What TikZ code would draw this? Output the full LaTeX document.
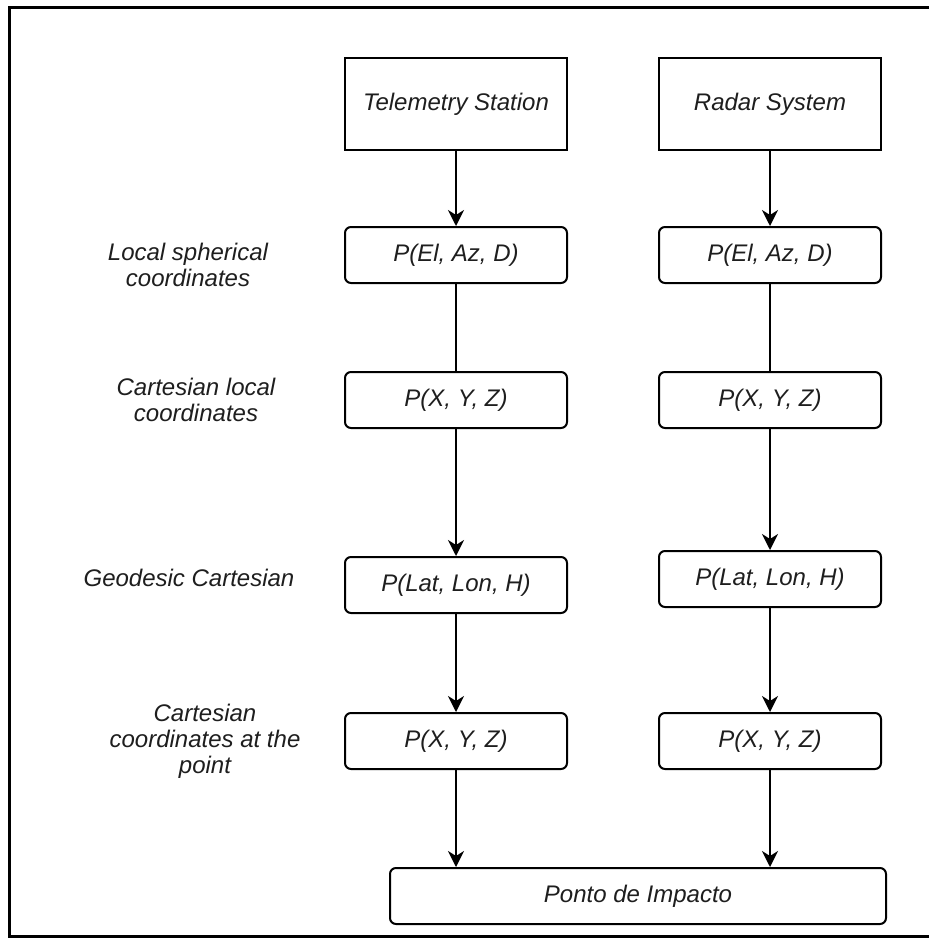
\documentclass[tikz,border=0pt]{standalone}
\usepackage{fontspec}
\setmainfont{Liberation Sans}
\usepackage{tikz}
\usetikzlibrary{arrows.meta,positioning}
\definecolor{InkGray}{RGB}{30,30,30}
\tikzset{
  srcbox/.style={draw=black,line width=1pt,minimum width=111pt,minimum height=46pt,align=center,text=InkGray,font=\itshape\fontsize{12}{13}\selectfont},
  stepbox/.style={draw=black,line width=1pt,rounded corners=3pt,minimum width=111pt,minimum height=28pt,align=center,text=InkGray,font=\itshape\fontsize{12}{13}\selectfont},
  lbl/.style={align=center,text=InkGray,font=\itshape\fontsize{12}{13}\selectfont},
  flow/.style={line width=1pt,-{Stealth[length=8pt,width=8pt,inset=2.5pt]}},
  link/.style={line width=1pt}
}

\begin{document}
\begin{tikzpicture}[x=0.5pt,y=-0.5pt]
\useasboundingbox (0,0) rectangle (929,938);
\draw[line width=1.5pt] (9,7) rectangle (945,936);

% sources
\node[srcbox] (tel) at (456,104) {Telemetry Station};
\node[srcbox,right=45pt of tel] (rad) {Radar System};

% telemetry column
\node[stepbox,below=37.5pt of tel] (t1) {P(El, Az, D)};
\node[stepbox,below=43.5pt of t1] (t2) {P(X, Y, Z)};
\node[stepbox,below=63.5pt of t2] (t3) {P(Lat, Lon, H)};
\node[stepbox,below=49pt of t3] (t4) {P(X, Y, Z)};

% radar column
\node[stepbox,below=37.5pt of rad] (r1) {P(El, Az, D)};
\node[stepbox,below=43.5pt of r1] (r2) {P(X, Y, Z)};
\node[stepbox,below=60.5pt of r2] (r3) {P(Lat, Lon, H)};
\node[stepbox,below=52pt of r3] (r4) {P(X, Y, Z)};

\node[stepbox,minimum width=248pt,below right=48.5pt and 22.5pt of t4.south west] (imp) {Ponto de Impacto};

% row labels
\node[lbl] (lab1) at ([xshift=-134pt,yshift=-5pt]t1.center) {Local spherical\\coordinates};
\node[lbl] (lab2) at ([xshift=-130pt]t2.center) {Cartesian local\\coordinates};
\node[lbl] (lab3) at ([xshift=-133.5pt,yshift=3.75pt]t3.center) {Geodesic Cartesian};
\node[lbl] (lab4) at ([xshift=-125.5pt]t4.center) {Cartesian\\coordinates at the\\point};

\draw[flow] (tel) -- (t1);
\draw[link] (t1) -- (t2);
\draw[flow] (t2) -- (t3);
\draw[flow] (t3) -- (t4);
\draw[flow] (t4.south) -- (t4.south |- imp.north);

\draw[flow] (rad) -- (r1);
\draw[link] (r1) -- (r2);
\draw[flow] (r2) -- (r3);
\draw[flow] (r3) -- (r4);
\draw[flow] (r4.south) -- (r4.south |- imp.north);
\end{tikzpicture}
\end{document}
